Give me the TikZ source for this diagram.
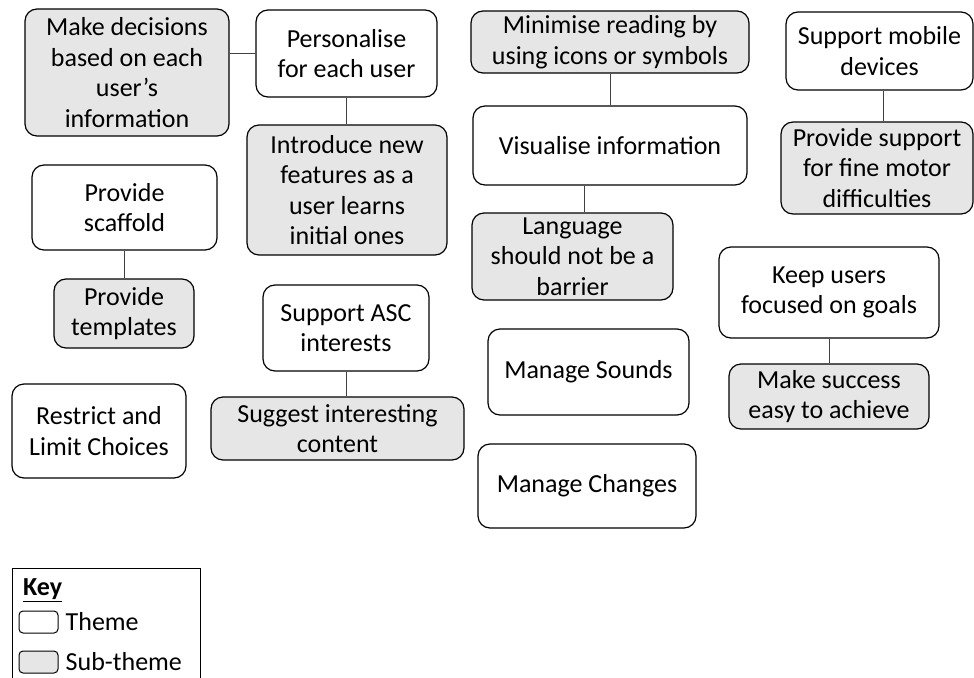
\documentclass[tikz,border=0pt]{standalone}
\usepackage{fontspec}
\setmainfont{Carlito}
\usetikzlibrary{positioning,calc}
\definecolor{subgrey}{RGB}{231,230,230}
\tikzset{
theme/.style={draw,line width=1.2pt,rounded corners=12pt,align=center,inner sep=2pt},
subtheme/.style={theme,fill=subgrey},
keybox/.style={draw,line width=1pt,rounded corners=4pt,minimum width=39pt,minimum height=22pt,inner sep=0pt},
tie/.style={line width=0.8pt,draw=black!75}}

\begin{document}
\begin{tikzpicture}[x=1pt,y=-1pt,font=\fontsize{26}{30.5}\selectfont]
\useasboundingbox (0,0) rectangle (974,677);

\node[subtheme,minimum width=204pt,minimum height=127pt] (decide) at (127,72.5) {Make decisions\\based on each\\user’s\\information};
\node[theme,minimum width=181pt,minimum height=87pt] (personal) at (346.5,53.5) {Personalise\\for each user};
\node[subtheme,minimum width=200pt,minimum height=130pt] (introduce) at (347,190) {Introduce new\\features as a\\user learns\\initial ones};
\node[theme,minimum width=185pt,minimum height=85pt] (scaffold) at (124.5,207.5) {Provide\\scaffold};
\node[subtheme,minimum width=140pt,minimum height=69pt] (templates) at (124,313.5) {Provide\\templates};
\node[theme,minimum width=166pt,minimum height=86pt] (asc) at (346,328) {Support ASC\\interests};
\node[subtheme,minimum width=253pt,minimum height=63pt] (suggest) at (337.5,428.5) {Suggest interesting\\content};
\node[theme,minimum width=174pt,minimum height=94pt] (restrict) at (99,431) {Restrict and\\Limit Choices};

\node[subtheme,minimum width=278pt,minimum height=62pt] (minimise) at (610,42) {Minimise reading by\\using icons or symbols};
\node[theme,minimum width=274pt,minimum height=79pt] (visual) at (610,145.5) {Visualise information};
\node[subtheme,minimum width=201pt,minimum height=87pt] (language) at (572.5,256.5) {Language\\should not be a\\barrier};
\node[theme,minimum width=201pt,minimum height=86pt] (sounds) at (588.5,372) {Manage Sounds};
\node[theme,minimum width=218pt,minimum height=84pt] (changes) at (587,486) {Manage Changes};

\node[theme,minimum width=187pt,minimum height=78pt] (mobile) at (879.5,51) {Support mobile\\devices};
\node[subtheme,minimum width=192pt,minimum height=92pt] (motor) at (877,168) {Provide support\\for fine motor\\difficulties};
\node[theme,minimum width=220pt,minimum height=91pt] (keep) at (829,292.5) {Keep users\\focused on goals};
\node[subtheme,minimum width=200pt,minimum height=65pt] (success) at (829,396.5) {Make success\\easy to achieve};

\draw[tie] (personal.west) -- (personal.west -| decide.east);
\draw[tie] (personal.south) -- (personal.south |- introduce.north);
\draw[tie] (scaffold.south) -- (scaffold.south |- templates.north);
\draw[tie] (asc.south) -- (asc.south |- suggest.north);
\draw[tie] (minimise.south) -- (minimise.south |- visual.north);
\draw[tie] ([xshift=-26pt]visual.south) -- ([xshift=-26pt]visual.south |- language.north);
\draw[tie] ([xshift=4pt]mobile.south) -- ([xshift=4pt]mobile.south |- motor.north);
\draw[tie] (keep.south) -- (keep.south |- success.north);

% key
\draw[line width=0.8pt] (12,690) -- (12,568) -- (200,568) -- (200,690);
\node[anchor=west,inner sep=0pt] (key) at (23,590) {\textbf{\underline{Key}}};
\node[keybox] (keytheme) at (38.5,622) {};
\node[right=7pt of keytheme,inner sep=0pt] (keythemetext) {Theme};
\node[keybox,fill=subgrey] (keysub) at (38.5,662) {};
\node[right=7pt of keysub,inner sep=0pt] (keysubtext) {Sub-theme};

\end{tikzpicture}
\end{document}
